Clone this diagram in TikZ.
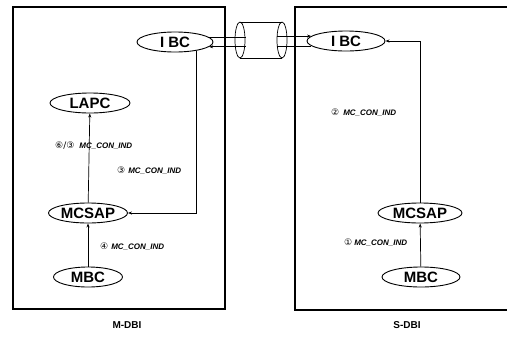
\documentclass[tikz,border=0pt]{standalone}
\usepackage{fontspec}
\setmainfont{Liberation Sans}
\newfontfamily\cfont{DejaVu Sans}
\usetikzlibrary{shapes.geometric,arrows.meta}
\tikzset{
  ell/.style={ellipse, draw, line width=0.9pt, inner sep=0pt, minimum height=20pt,
    font=\fontsize{15}{15}\selectfont\bfseries},
  frame/.style={line width=1.4pt},
  wire/.style={line width=0.7pt},
  arr/.style={line width=0.7pt, -{Stealth[length=4pt,width=3pt]}},
  lbl/.style={anchor=west, inner sep=0pt, font=\fontsize{8}{8}\selectfont\bfseries\itshape},
  captext/.style={font=\fontsize{10}{10}\selectfont\bfseries}
}
\newcommand{\cn}[1]{{\cfont\fontsize{9}{9}\selectfont\upshape\mdseries #1}}
\begin{document}
\begin{tikzpicture}[x=1pt,y=-1pt]
\useasboundingbox (0,0) rectangle (507,338);
% frames
\draw[frame] (13,7) rectangle (225,309);
\draw[frame] (510,7) -- (295,7) -- (295,310) -- (510,310);
% left side
\node[ell, minimum width=76pt] (ibcl) at (175,42) {I BC};
\node[ell, minimum width=80pt] (lapc) at (90,103) {LAPC};
\node[ell, minimum width=79pt] (mcsapl) at (88,213) {MCSAP};
\node[ell, minimum width=69pt] (mbcl) at (88,277) {MBC};
% right side
\node[ell, minimum width=78pt] (ibcr) at (346,41) {I BC};
\node[ell, minimum width=84pt] (mcsapr) at (420,213) {MCSAP};
\node[ell, minimum width=78pt] (mbcr) at (421,277) {MBC};
% cylinder
\coordinate (cl) at (240,40);
\coordinate (cr) at (282,40);
\draw[wire] (cl) ellipse [x radius=5, y radius=18];
\draw[wire] (cr) ellipse [x radius=5, y radius=18];
\draw[wire] (240,22) -- (282,22);
\draw[wire] (240,58) -- (282,58);
% wires
\coordinate (wl1) at (246,37);
\coordinate (wl2) at (246,46);
\coordinate (wr1) at (277,36);
\coordinate (wr2) at (277,45);
\draw[wire] (ibcl.8) -- (wl1 |- ibcl.8);
\draw[arr] (wl2 |- ibcl.-8) -- (ibcl.-8);
\draw[arr] (wr1 |- ibcr.172) -- (ibcr.172);
\draw[wire] (ibcr.188) -- (wr2 |- ibcr.188);
% connectors
\draw[arr] (mbcl) -- (mcsapl);
\draw[arr] (mcsapl) -- (lapc);
\draw[arr] (ibcl.-22) |- (mcsapl.east);
\draw[arr] (mbcr) -- (mcsapr);
\draw[arr] (mcsapr.north) |- (ibcr.east);
% labels
\node[lbl] (l1) at (55,146) {\cn{⑥/③}\hspace{5pt}MC\_CON\_IND};
\node[lbl] (l2) at (117,171) {\cn{③}\hspace{3pt}MC\_CON\_IND};
\node[lbl] (l3) at (100,247) {\cn{④}\hspace{3pt}MC\_CON\_IND};
\node[lbl] (l4) at (331,113) {\cn{②}\hspace{4pt}MC\_CON\_IND};
\node[lbl] (l5) at (344,243) {\cn{①}\hspace{2pt}MC\_CON\_IND};
\node[captext] (m) at (127,325) {M-DBI};
\node[captext] (s) at (407,325) {S-DBI};
\end{tikzpicture}
\end{document}
